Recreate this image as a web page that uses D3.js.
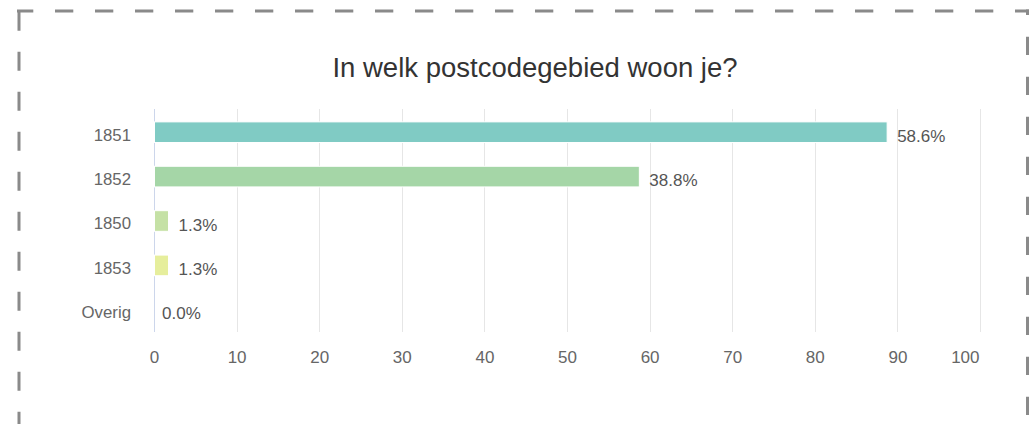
<!DOCTYPE html>
<html>
<head>
<meta charset="utf-8">
<script src="https://cdn.jsdelivr.net/npm/d3@7"></script>
<style>
    body { margin: 0; background: #fff; }
    svg { display: block; font-family: "Liberation Sans", Arial, Helvetica, sans-serif; }
</style>
</head>
<body>
<div id="chart"></div>
<script>
// answers per postcode area
const categories = ["1851", "1852", "1850", "1853", "Overig"];
const counts = [89, 59, 2, 2, 0];
const percentLabels = ["58.6%", "38.8%", "1.3%", "1.3%", "0.0%"];
const barColors = ["#80cbc4", "#a5d6a7", "#c5e1a5", "#e6ee9c", "#fff59d"];
const xTicks = [0, 10, 20, 30, 40, 50, 60, 70, 80, 90, 100];
const title = "In welk postcodegebied woon je?";

const W = 1033, H = 424;
var margin = { top: 110, left: 154, right: 1033 - 980, bottom: 424 - 332 };
var plotW = W - margin.left - margin.right,
    plotH = H - margin.top - margin.bottom;

var svg = d3.select("#chart")
    .append("svg")
    .attr("width", W)
    .attr("height", H);

// dashed frame round the widget
var frame = svg.append("g")
    .attr("stroke", "#8a8a8a")
    .attr("stroke-width", 3)
    .attr("fill", "none");
frame.append("line")
    .attr("x1", 17).attr("x2", 1029).attr("y1", 11).attr("y2", 11)
    .attr("stroke-dasharray", "18.3 21.7")
    .attr("stroke-dashoffset", 2);
frame.append("line")
    .attr("x1", 19).attr("x2", 19).attr("y1", 11.7).attr("y2", H + 10)
    .attr("stroke-dasharray", "19 21");
frame.append("line")
    .attr("x1", 1027.5).attr("x2", 1027.5).attr("y1", 9.5).attr("y2", H + 10)
    .attr("stroke-dasharray", "18.3 21.7")
    .attr("stroke-dashoffset", 12.8);

svg.append("text")
    .attr("x", 535)
    .attr("y", 77)
    .attr("text-anchor", "middle")
    .style("font-size", "27.5px")
    .style("fill", "#333")
    .text(title);

var g = svg.append("g")
    .attr("transform", "translate(" + margin.left + "," + margin.top + ")");

var x = d3.scaleLinear()
    .domain([0, 100])
    .range([0, plotW]);

var y = d3.scaleBand()
    .domain(categories)
    .range([0, plotH])
    .paddingInner(0.535)
    .paddingOuter(0.2675);

// vertical grid
g.append("g")
    .attr("class", "grid")
    .selectAll("line")
    .data(xTicks.slice(1))
    .enter()
    .append("line")
    .attr("x1", d => Math.round(x(d)) + 0.5)
    .attr("x2", d => Math.round(x(d)) + 0.5)
    .attr("y1", -1)
    .attr("y2", plotH)
    .attr("stroke", "#e6e6e6");

// x axis labels
var xAxis = g.append("g")
    .attr("transform", "translate(0," + plotH + ")")
    .call(d3.axisBottom(x).tickValues(xTicks).tickSize(0).tickPadding(0));
xAxis.select(".domain").remove();
xAxis.selectAll("text")
    .attr("y", 31)
    .attr("dy", 0)
    .style("font-size", "17px")
    .style("fill", "#666")
    .style("font-family", "inherit");
xAxis.selectAll(".tick:last-of-type text")
    .attr("text-anchor", "end")
    .attr("x", -1);

// y axis
var yAxis = g.append("g")
    .call(d3.axisLeft(y).tickSize(0).tickPadding(23));
yAxis.select(".domain").remove();
yAxis.selectAll("text")
    .attr("dy", "0.5em")
    .style("font-size", "16.8px")
    .style("fill", "#666")
    .style("font-family", "inherit");

g.append("line")
    .attr("x1", 0.5).attr("x2", 0.5)
    .attr("y1", -1).attr("y2", plotH)
    .attr("stroke", "#ccd6eb");

var rows = categories.map((c, i) => ({ cat: c, value: counts[i], label: percentLabels[i], color: barColors[i] }));

g.selectAll(".bar")
    .data(rows.filter(d => d.value > 0))
    .enter()
    .append("rect")
    .attr("class", "bar")
    .attr("x", x(0) + 0.5)
    .attr("y", d => y(d.cat))
    .attr("width", d => x(d.value) - x(0) - 2.5)
    .attr("height", y.bandwidth())
    .style("fill", d => d.color)
    .style("stroke", "#fff")
    .style("stroke-width", 1);

g.selectAll(".value")
    .data(rows)
    .enter()
    .append("text")
    .attr("class", "value")
    .attr("x", d => x(d.value) + 8)
    .attr("y", d => y(d.cat) + y.bandwidth() / 2 + 9.5)
    .style("font-size", "17px")
    .style("fill", "#555")
    .text(d => d.label);
</script>
</body>
</html>
